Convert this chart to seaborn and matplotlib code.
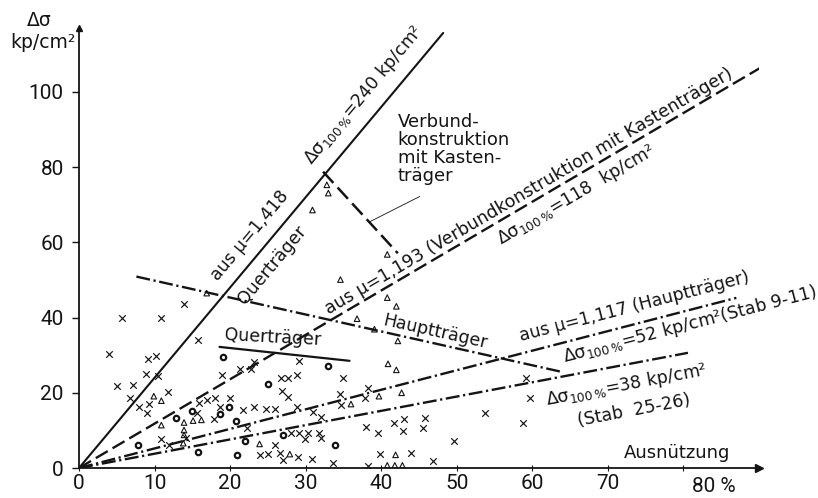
import math
import matplotlib
matplotlib.use("Agg")
import matplotlib.pyplot as plt
import numpy as np
import pandas as pd
import seaborn as sns

# Reference lines through the origin: Δσ at 100 % utilisation (kp/cm²)
delta100 = [240, 118, 52, 38]
line_end = [48.2, 90.4, 87.0, 80.6]

# Measured stress ranges (Δσ in kp/cm² against utilisation in %)
cross_x = [4.0, 5.0, 5.7, 7.1, 6.8, 8.0, 8.9, 9.0, 9.1, 9.2, 10.2, 10.9, 10.5, 11.8, 10.9, 11.9,
           13.9, 14.2, 15.6, 15.8, 15.9, 16.9, 17.9, 18.0, 18.7, 18.9, 20.0, 21.3, 21.7, 22.2,
           22.8, 23.1, 23.1, 23.9, 24.8, 25.0, 25.9, 26.0, 26.6, 26.8, 26.9, 27.0, 27.7, 27.7,
           28.1, 28.8, 28.8, 29.0, 29.1, 29.1, 29.9, 30.3, 30.9, 31.0, 31.7, 32.0, 32.0, 33.6,
           34.5, 34.7, 35.0, 37.8, 38.0, 38.3, 38.3, 39.6, 39.9, 41.7, 43.0, 42.9, 43.9, 45.5,
           45.8, 46.8, 49.6, 53.8, 58.8, 59.2, 59.7]
cross_y = [30.3, 21.8, 39.8, 22.1, 18.5, 16.3, 25.0, 14.7, 28.9, 17.0, 29.9, 39.8, 24.5, 20.3, 7.6, 6.1,
           43.6, 7.9, 14.5, 34.0, 17.4, 18.1, 13.0, 18.5, 16.1, 24.7, 18.5, 26.2, 15.4, 10.6,
           26.2, 28.3, 16.1, 3.5, 15.6, 3.7, 15.6, 6.1, 3.9, 23.9, 20.6, 2.1, 23.9, 19.0,
           9.2, 24.7, 16.1, 3.0, 28.5, 9.4, 7.6, 9.2, 2.3, 15.0, 9.4, 13.5, 7.9, 1.2,
           19.8, 16.8, 23.9, 18.5, 11.0, 21.3, 0.4, 9.4, 3.7, 12.0, 12.9, 9.8, 3.9, 10.6,
           13.2, 1.9, 7.1, 14.7, 11.9, 23.9, 18.5]

tri_x = [9.9, 10.9, 10.9, 13.9, 13.9, 13.9, 13.8, 15.1, 16.2, 16.9, 23.9, 27.9, 30.9, 32.8, 33.0,
         34.6, 36.0, 36.8, 39.1, 39.7, 40.8, 40.8, 42.0, 42.2, 40.9, 42.0, 42.7, 41.9, 40.8,
         41.8, 42.8]
tri_y = [19.1, 17.9, 11.4, 12.1, 10.1, 8.8, 6.6, 12.6, 12.8, 46.5, 6.4, 3.7, 68.6, 75.3, 73.1,
         50.1, 17.0, 39.7, 36.9, 19.1, 56.8, 45.3, 43.0, 33.8, 27.7, 26.1, 20.0, 3.5, 0.7,
         0.7, 0.7]

circ_x = [7.8, 12.9, 14.9, 15.8, 18.7, 19.0, 19.9, 20.8, 20.9, 22.0, 25.0, 27.0, 32.9, 33.9]
circ_y = [6.1, 13.2, 15.2, 4.3, 14.4, 29.4, 16.2, 12.6, 3.5, 7.3, 22.4, 8.8, 27.2, 6.1]

# Auxiliary segments
haupt_x, haupt_y = [7.6, 63.8], [50.9, 25.6]
quer_x, quer_y = [18.6, 35.8], [32.2, 28.5]
verb_x, verb_y = [32.3, 42.2], [78.8, 57.1]
leader_x, leader_y = [38.5, 45.1], [65.5, 72.2]

x_ticks = [0, 10, 20, 30, 40, 50, 60, 70, 80]
x_labels = ["0", "10", "20", "30", "40", "50", "60", "70", "80 %"]
y_ticks = [0, 20, 40, 60, 80, 100]

sns.set_theme(style="white")
plt.rcParams["font.family"] = ["DejaVu Sans"]
plt.rcParams["mathtext.fontset"] = "dejavusans"
plt.rcParams["mathtext.default"] = "regular"
plt.rcParams["lines.scale_dashes"] = False

ink = "#141414"
num_font = ["Roboto", "DejaVu Sans"]
W, H = 818, 498
fig = plt.figure(figsize=(W / 100, H / 100), dpi=100)
ax = fig.add_axes([79 / W, 30 / H, 680 / W, 440 / H])
ax.set_xlim(0, 90)
ax.set_ylim(0, 117)

dash = (0, (10, 4))
dashdot = (0, (10, 2.6, 1.6, 2.6))
styles = [dict(linestyle="-", linewidth=1.5),
          dict(linestyle=dash, linewidth=1.7),
          dict(linestyle=dashdot, linewidth=1.7),
          dict(linestyle=dashdot, linewidth=1.7)]
for d, xe, st in zip(delta100, line_end, styles):
    sns.lineplot(x=[0, xe], y=[0, xe * d / 100], ax=ax, color=ink, **st)

sns.lineplot(x=haupt_x, y=haupt_y, ax=ax, color=ink, linestyle=dashdot, linewidth=1.7)
sns.lineplot(x=quer_x, y=quer_y, ax=ax, color=ink, linestyle="-", linewidth=1.6)
sns.lineplot(x=verb_x, y=verb_y, ax=ax, color=ink, linestyle=(0, (11, 4.5)), linewidth=1.8)
sns.lineplot(x=leader_x, y=leader_y, ax=ax, color=ink, linewidth=0.6)

sns.scatterplot(x=cross_x, y=cross_y, marker="x", s=22, color=ink, linewidth=0.85, ax=ax)
sns.scatterplot(x=tri_x, y=tri_y, marker="^", s=16, color="none", edgecolor=ink,
                linewidth=0.8, ax=ax)
sns.scatterplot(x=circ_x, y=circ_y, marker="o", s=15, color="white", edgecolor=ink,
                linewidth=1.6, ax=ax)

# axes with arrow heads
for side in ["top", "right"]:
    ax.spines[side].set_visible(False)
for side in ["left", "bottom"]:
    ax.spines[side].set_color(ink)
    ax.spines[side].set_linewidth(1.3)
ax.plot(1, 0, marker=">", ms=6, color=ink, transform=ax.transAxes, clip_on=False)
ax.plot(0, 1, marker="^", ms=5, color=ink, transform=ax.transAxes, clip_on=False)

ax.set_xticks(x_ticks, labels=x_labels[:-1] + [""])
ax.set_yticks(y_ticks)
ax.tick_params(axis="y", direction="out", length=5, width=1, color=ink, pad=6,
               labelsize=15, labelcolor=ink, left=True)
ax.tick_params(axis="x", direction="inout", length=4, width=0.8, color=ink, pad=2,
               labelsize=15, labelcolor=ink, bottom=True)
for lab in ax.get_xticklabels() + ax.get_yticklabels():
    lab.set_fontfamily(num_font)
ax.annotate(x_labels[-1], xy=(x_ticks[-1], 0), xycoords=("data", "axes fraction"),
            xytext=(22, -13), textcoords="offset points", ha="center", va="center",
            fontsize=15, color=ink, family=num_font)


def angle_of(slope):
    p0 = ax.transData.transform((0, 0))
    p1 = ax.transData.transform((10, 10 * slope))
    return math.degrees(math.atan2(p1[1] - p0[1], p1[0] - p0[0]))


def tag(x, y, s, rot, size=12.5):
    ax.text(x, y, s, rotation=rot, rotation_mode="anchor", ha="center", va="center",
            fontsize=size, color=ink)


sub = r"$_{100\,\%}$"
a1 = angle_of(delta100[0] / 100)
a2 = angle_of(delta100[1] / 100)
a3 = angle_of(delta100[2] / 100)
a4 = angle_of(delta100[3] / 100)
tag(22.6, 61.7, "aus μ=1,418", a1)
tag(25.5, 54.0, "Querträger", a1)
tag(37.7, 99.2, "Δσ" + sub + "=240 kp/cm²", a1)
tag(59.6, 73.6, "aus μ=1,193 (Verbundkonstruktion mit Kastenträger)", a2, 12.6)
tag(65.8, 72.6, "Δσ" + sub + "=118  kp/cm²", a2)
tag(73.5, 42.8, "aus μ=1,117 (Hauptträger)", a3)
tag(80.8, 38.0, "Δσ" + sub + "=52 kp/cm²(Stab 9-11)", a3)
tag(72.4, 22.1, "Δσ" + sub + "=38 kp/cm²", a4)
tag(73.5, 15.4, "(Stab  25-26)", a4)

a_h = angle_of((haupt_y[1] - haupt_y[0]) / (haupt_x[1] - haupt_x[0]))
tag(47.2, 36.2, "Hauptträger", a_h)
tag(25.7, 34.6, "Querträger", -3)

ax.text(42.2, 94.4, "Verbund-\nkonstruktion\nmit Kasten-\nträger", ha="left", va="top",
        fontsize=13, color=ink, linespacing=1.0)
ax.text(79.1, 3.9, "Ausnützung", ha="center", va="center", fontsize=13, color=ink)

fig.text(39 / W, 1 - 21 / H, "Δσ", ha="center", va="center", fontsize=13.5, color=ink)
fig.text(43 / W, 1 - 42 / H, "kp/cm²", ha="center", va="center", fontsize=13.5, color=ink)

fig.savefig("out.png", dpi=100, facecolor="white")
